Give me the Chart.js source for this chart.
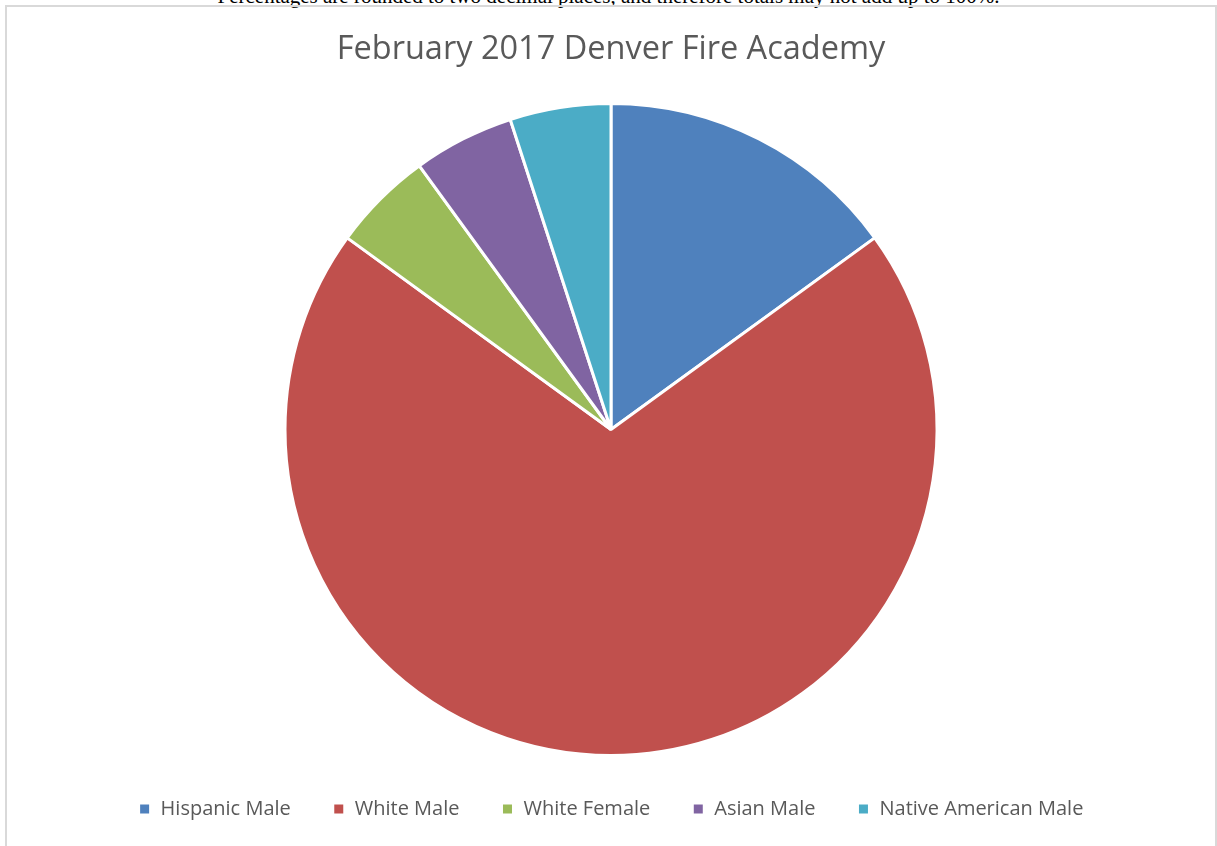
<!DOCTYPE html>
<html>
<head>
<meta charset="utf-8">
<script src="https://cdn.jsdelivr.net/npm/chart.js@4"></script>
<style>
  html, body { margin: 0; padding: 0; background: #fff; overflow: hidden; }
  .note {
    position: absolute; left: 0; width: 1217px; top: -18px;
    text-align: center; font-family: "Liberation Serif", serif; font-size: 21px;
    line-height: 28px; color: #000; white-space: nowrap;
  }
  .frame {
    position: absolute; left: 5px; top: 5px; width: 1208px; height: 900px;
    border: 2px solid #d9d9d9; border-bottom: none;
  }
  .box { position: absolute; left: 7px; top: 7px; width: 1208px; height: 822px; }
</style>
</head>
<body>
<div class="note">Percentages are rounded to two decimal places, and therefore totals may not add up to 100%.</div>
<div class="frame"></div>
<div class="box"><canvas id="pieChart"></canvas></div>
<script>
// Academy composition
const categories = ['Hispanic Male', 'White Male', 'White Female', 'Asian Male', 'Native American Male'];
const shares = [15, 70, 5, 5, 5];
const colors = ['#4F81BD', '#C0504D', '#9BBB59', '#8064A2', '#4BACC6'];

const ctx = document.getElementById('pieChart').getContext('2d');
new Chart(ctx, {
    type: 'pie',
    data: {
        labels: categories,
        datasets: [{
            data: shares,
            backgroundColor: colors,
            borderColor: '#ffffff',
            borderWidth: 3
        }]
    },
    options: {
        responsive: true,
        maintainAspectRatio: false,
        animation: false,
        plugins: {
            title: {
                display: true,
                text: 'February 2017 Denver Fire Academy',
                color: '#595959',
                font: { family: 'Open Sans', size: 32.5, weight: 'normal', lineHeight: 1.2 },
                padding: { top: 23, bottom: 33 }
            },
            legend: {
                position: 'bottom',
                labels: {
                    color: '#595959',
                    font: { family: 'Open Sans', size: 20 },
                    boxWidth: 12,
                    boxHeight: 12,
                    padding: 42
                }
            },
            tooltip: { enabled: false }
        }
    }
});
</script>
</body>
</html>
